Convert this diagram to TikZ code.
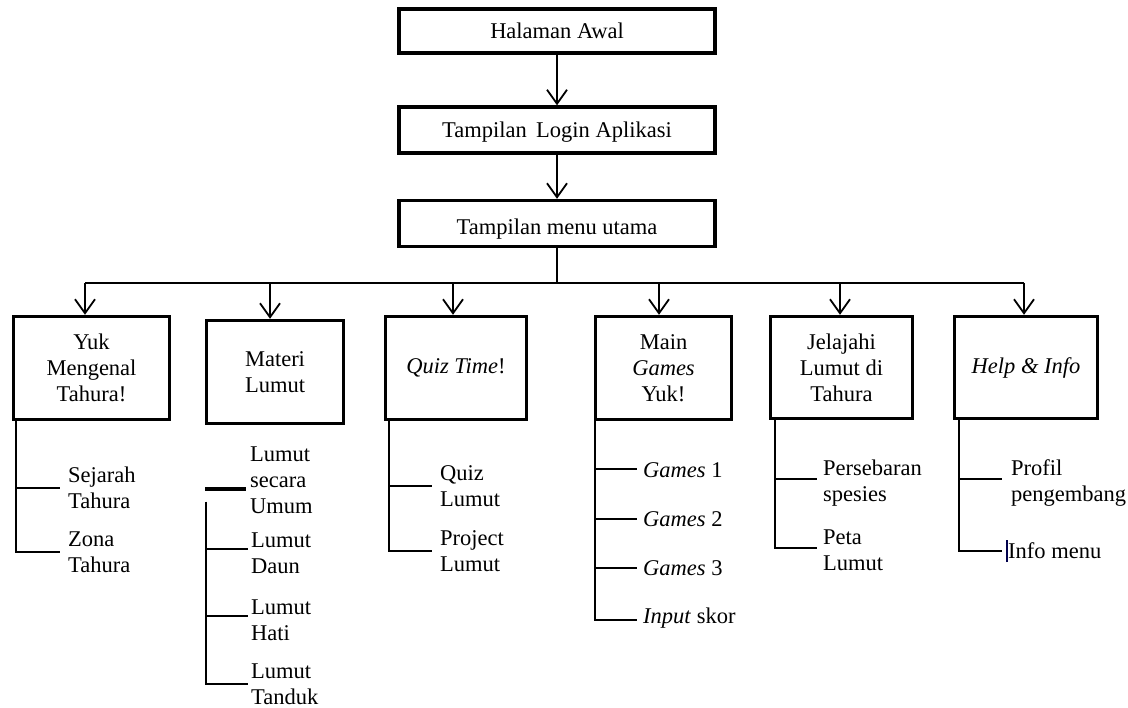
\documentclass[tikz,border=0pt]{standalone}
\usepackage{fontspec}
\setmainfont{Liberation Serif}
\usetikzlibrary{arrows.meta}
\begin{document}
\begin{tikzpicture}[x=1pt,y=-1pt,
  every node/.style={font=\fontsize{22.5}{26}\selectfont},
  box/.style={draw,line width=3.4pt,align=center,inner sep=2pt},
  topbox/.style={box,minimum width=316pt,minimum height=44pt,text height=19pt,text depth=3pt},
  subbox/.style={box,minimum width=#1,minimum height=103pt},
  item/.style={anchor=west,align=left,inner xsep=7pt,inner ysep=0pt},
  conn/.style={line width=2.5pt},
  arr/.style={line width=1.8pt,-{Straight Barb[length=14pt,width=20pt,line width=1.8pt]}}]
\useasboundingbox (0,0) rectangle (1128,708);

% top chain
\node[topbox] (awal) at (557,31) {Halaman Awal};
\node[topbox,minimum height=46pt] (login) at (557,130) {Tampilan\, Login Aplikasi};
\node[topbox,minimum height=46pt,text height=22pt,text depth=0pt] (menu) at (557,223.5) {Tampilan menu utama};
\draw[arr] (awal.south) -- (login.north);
\draw[arr] (login.south) -- (menu.north);

% second level
\node[subbox=156pt] (yuk) at (91.5,368) {Yuk\\Mengenal\\Tahura!};
\node[subbox=137pt] (materi) at (275,372) {Materi\\Lumut};
\node[subbox=141pt] (quiz) at (456,368) {\textit{Quiz Time}!};
\node[subbox=136pt] (main) at (663.5,368) {Main\\\textit{Games}\\Yuk!};
\node[subbox=142pt,minimum height=102pt] (jel) at (841.5,367.5) {Jelajahi\\Lumut di\\Tahura};
\node[subbox=143pt,minimum height=102pt] (help) at (1026,367.5) {\textit{Help \& Info}};

% bus
\coordinate (b1) at (85,283);
\coordinate (b2) at (270,283);
\coordinate (b3) at (453,283);
\coordinate (b4) at (659,283);
\coordinate (b5) at (840,283);
\coordinate (b6) at (1024,283);
\draw[line width=1.8pt] (menu.south) -- (menu.south |- b1);
\draw[line width=1.8pt] (b1) -- (b6);
\draw[arr] (b1) -- (b1 |- yuk.north);
\draw[arr] (b2) -- (b2 |- materi.north);
\draw[arr] (b3) -- (b3 |- quiz.north);
\draw[arr] (b4) -- (b4 |- main.north);
\draw[arr] (b5) -- (b5 |- jel.north);
\draw[arr] (b6) -- (b6 |- help.north);

% Yuk Mengenal Tahura items
\node[item,inner xsep=8pt] (sej) at (60,488) {Sejarah\\Tahura};
\node[item,inner xsep=8pt] (zona) at (60,552) {Zona\\Tahura};
\coordinate (yukT) at (16,421);
\draw[conn] (yukT) |- (sej.west);
\draw[conn] (yukT) |- (zona.west);

% Materi Lumut items
\node[item,inner xsep=4pt] (umum) at (246,480) {Lumut\\secara\\Umum};
\node[item,inner xsep=3pt] (daun) at (248,553) {Lumut\\Daun};
\node[item,inner xsep=3pt] (hati) at (248,620) {Lumut\\Hati};
\node[item,inner xsep=3pt] (tanduk) at (248,684) {Lumut\\Tanduk};
\coordinate (mdash) at (205,489);
\draw[line width=3.4pt] (mdash) -- (mdash -| umum.west);
\coordinate (matT) at (206,502);
\draw[conn] (matT) |- ([yshift=4pt]daun.west);
\draw[conn] (matT) |- ([yshift=4pt]hati.west);
\draw[conn] (matT) |- (tanduk.west);

% Quiz Time items
\node[item,inner xsep=8pt] (qlumut) at (432,486) {Quiz\\Lumut};
\node[item,inner xsep=8pt] (proj) at (432,551) {Project\\Lumut};
\coordinate (quizT) at (389,421);
\draw[conn] (quizT) |- (qlumut.west);
\draw[conn] (quizT) |- (proj.west);

% Main Games items
\node[item,inner xsep=6pt] (g1) at (637,470) {\textit{Games} 1};
\node[item,inner xsep=6pt] (g2) at (637,519) {\textit{Games} 2};
\node[item,inner xsep=6pt] (g3) at (637,568) {\textit{Games} 3};
\node[item,inner xsep=6pt] (skor) at (637,618) {\textit{Input} skor};
\coordinate (mainT) at (595,421);
\draw[conn] (mainT) |- ([yshift=1pt]g1.west);
\draw[conn] (mainT) |- (g2.west);
\draw[conn] (mainT) |- (g3.west);
\draw[conn] (mainT) |- ([yshift=-2pt]skor.west);

% Jelajahi items
\node[item,inner xsep=6pt] (pers) at (817,483) {Persebaran\\spesies};
\node[item,inner xsep=6pt] (peta) at (817,550) {Peta\\Lumut};
\coordinate (jelT) at (775,420);
\draw[conn] (jelT) |- ([yshift=4pt]pers.west);
\draw[conn] (jelT) |- ([yshift=2pt]peta.west);

% Help & Info items
\node[item,inner xsep=9pt] (prof) at (1002,483) {Profil\\pengembang};
\node[item,inner xsep=6pt] (info) at (1002,551) {Info menu};
\coordinate (helpT) at (959,420);
\draw[conn] (helpT) |- ([yshift=4pt]prof.west);
\draw[conn] (helpT) |- (info.west);
\draw[line width=1.8pt,blue!30!black] ([xshift=5pt,yshift=-11pt]info.west) -- ([xshift=5pt,yshift=11pt]info.west);
\end{tikzpicture}
\end{document}
